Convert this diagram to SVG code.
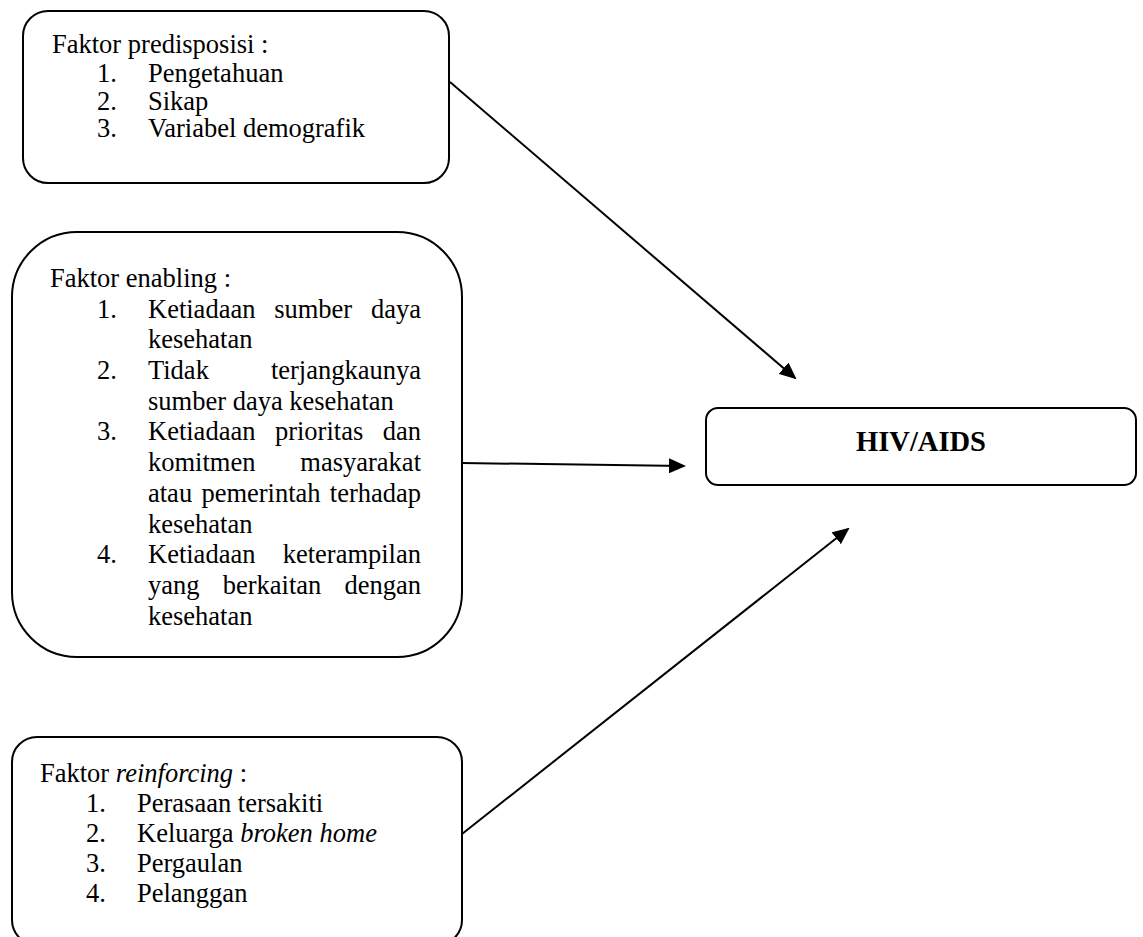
<svg xmlns="http://www.w3.org/2000/svg" width="1143" height="937" viewBox="0 0 1143 937">
<style>
.box{fill:#fff;stroke:#000;stroke-width:2}
.t{font-family:"Liberation Serif","Times New Roman",serif;font-size:26.5px;fill:#000}
.e{text-anchor:end}
.i{font-style:italic}
.h{font-family:"Liberation Serif","Times New Roman",serif;font-size:28.5px;font-weight:bold;text-anchor:middle;fill:#000}
.c{fill:none;stroke:#000;stroke-width:2}
</style>
<defs>
<marker id="ah" markerWidth="17" markerHeight="15" refX="15" refY="7.5" orient="auto" markerUnits="userSpaceOnUse" viewBox="0 0 17 15">
<path d="M0,0 L17,7.5 L0,15 Z" fill="#000"/>
</marker>
</defs>
<rect width="1143" height="937" fill="#fff"/>

<g id="connectors">
<line class="c" x1="450" y1="82" x2="795" y2="378" marker-end="url(#ah)"/>
<line class="c" x1="462" y1="463" x2="684" y2="466" marker-end="url(#ah)"/>
<line class="c" x1="462" y1="834" x2="848" y2="529" marker-end="url(#ah)"/>
</g>

<g id="predisposisi">
<rect class="box" x="23" y="11" width="426" height="172" rx="25"/>
<text class="t" x="52" y="53">Faktor predisposisi :</text>
<text class="t" x="97" y="82">1.</text><text class="t" x="148" y="82">Pengetahuan</text>
<text class="t" x="97" y="110">2.</text><text class="t" x="148" y="110">Sikap</text>
<text class="t" x="97" y="137">3.</text><text class="t" x="148" y="137">Variabel demografik</text>
</g>

<g id="enabling">
<rect class="box" x="12" y="232" width="450" height="425" rx="65"/>
<text class="t" x="50" y="287">Faktor enabling :</text>
<text class="t" x="97" y="318">1.</text>
<text class="t" x="148" y="318">Ketiadaan</text><text class="t" x="274.2" y="318">sumber</text><text class="t e" x="421" y="318">daya</text>
<text class="t" x="148" y="348">kesehatan</text>
<text class="t" x="97" y="379">2.</text>
<text class="t" x="148" y="379">Tidak</text><text class="t e" x="421" y="379">terjangkaunya</text>
<text class="t" x="148" y="410">sumber daya kesehatan</text>
<text class="t" x="97" y="440">3.</text>
<text class="t" x="148" y="440">Ketiadaan</text><text class="t" x="274.9" y="440">prioritas</text><text class="t e" x="421" y="440">dan</text>
<text class="t" x="148" y="471">komitmen</text><text class="t e" x="421" y="471">masyarakat</text>
<text class="t" x="148" y="502">atau</text><text class="t" x="201.4" y="502">pemerintah</text><text class="t e" x="421" y="502">terhadap</text>
<text class="t" x="148" y="533">kesehatan</text>
<text class="t" x="97" y="563">4.</text>
<text class="t" x="148" y="563">Ketiadaan</text><text class="t e" x="421" y="563">keterampilan</text>
<text class="t" x="148" y="594">yang</text><text class="t" x="222.7" y="594">berkaitan</text><text class="t e" x="421" y="594">dengan</text>
<text class="t" x="148" y="625">kesehatan</text>
</g>

<g id="reinforcing">
<rect class="box" x="12" y="737" width="450" height="208" rx="25"/>
<text class="t" x="40" y="782">Faktor <tspan class="i">reinforcing</tspan> :</text>
<text class="t" x="86" y="812">1.</text><text class="t" x="137" y="812">Perasaan tersakiti</text>
<text class="t" x="86" y="842">2.</text><text class="t" x="137" y="842">Keluarga <tspan class="i">broken home</tspan></text>
<text class="t" x="86" y="872">3.</text><text class="t" x="137" y="872">Pergaulan</text>
<text class="t" x="86" y="902">4.</text><text class="t" x="137" y="902">Pelanggan</text>
</g>

<g id="hiv">
<rect class="box" x="706" y="408" width="430" height="77" rx="12"/>
<text class="h" x="921" y="451">HIV/AIDS</text>
</g>
</svg>
